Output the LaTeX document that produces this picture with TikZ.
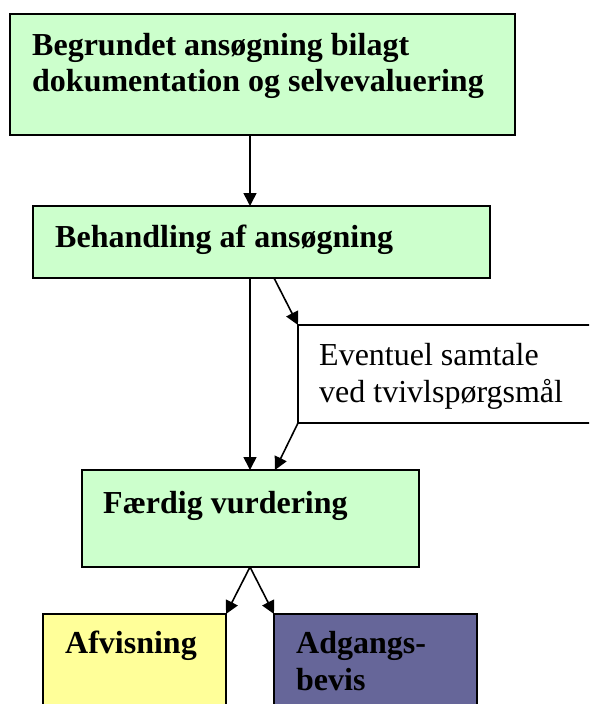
\documentclass[tikz,border=0pt]{standalone}
\usepackage{fontspec}
\setmainfont{Liberation Serif}
\usetikzlibrary{arrows.meta}
\definecolor{lgreen}{HTML}{CCFFCC}
\definecolor{lyellow}{HTML}{FFFF99}
\definecolor{lpurple}{HTML}{666699}
\tikzset{
  boxnode/.style={draw=black, line width=1.6pt, rectangle, anchor=north west, inner sep=0pt, outer sep=0pt},
  txt/.style={anchor=base west, inner sep=0pt, font=\fontsize{32}{36}\selectfont\bfseries},
  txtr/.style={anchor=base west, inner sep=0pt, font=\fontsize{32}{36}\selectfont},
  arr/.style={line width=1.6pt, -{Triangle[length=13pt,width=13pt]}}
}
\begin{document}
\begin{tikzpicture}[x=1pt,y=-1pt]
\useasboundingbox (0,0) rectangle (589,704);
\clip (0,0) rectangle (589,704);
% boxes
\node[boxnode, fill=lgreen, minimum width=505.3pt, minimum height=120.7pt] (b1) at (9.7,14) {};
\node[boxnode, fill=lgreen, minimum width=457pt, minimum height=72pt] (b2) at (33,206) {};
\node[boxnode, fill=white, minimum width=330pt, minimum height=98pt] (ev) at (298,325) {};
\node[boxnode, fill=lgreen, minimum width=337pt, minimum height=97pt] (b3) at (82,470) {};
\node[boxnode, fill=lyellow, minimum width=183pt, minimum height=110pt] (af) at (43,614) {};
\node[boxnode, fill=lpurple, minimum width=203pt, minimum height=110pt] (ad) at (274,614) {};
% texts
\node[txt] (t1a) at (32,55) {Begrundet ansøgning bilagt};
\node[txt] (t1b) at (32,91) {dokumentation og selvevaluering};
\node[txt] (t2) at (55,247) {Behandling af ansøgning};
\node[txtr] (tea) at (319,365) {Eventuel samtale};
\node[txtr] (teb) at (319,402) {ved tvivlspørgsmål};
\node[txt] (t3) at (103,513) {Færdig vurdering};
\node[txt] (taf) at (65,653) {Afvisning};
\node[txt] (tada) at (296,653) {Adgangs-};
\node[txt] (tadb) at (296,690) {bevis};
% connectors
\draw[arr] ([xshift=240.3pt]b1.south west) -- ([xshift=217pt]b2.north west);
\draw[arr] ([xshift=217pt]b2.south west) -- ([xshift=168pt]b3.north west);
\draw[arr] ([xshift=241pt]b2.south west) -- (ev.north west);
\draw[arr] (ev.south west) -- ([xshift=193pt]b3.north west);
\draw[arr] ([xshift=168pt]b3.south west) -- (af.north east);
\draw[arr] ([xshift=168pt]b3.south west) -- (ad.north west);
\end{tikzpicture}
\end{document}
